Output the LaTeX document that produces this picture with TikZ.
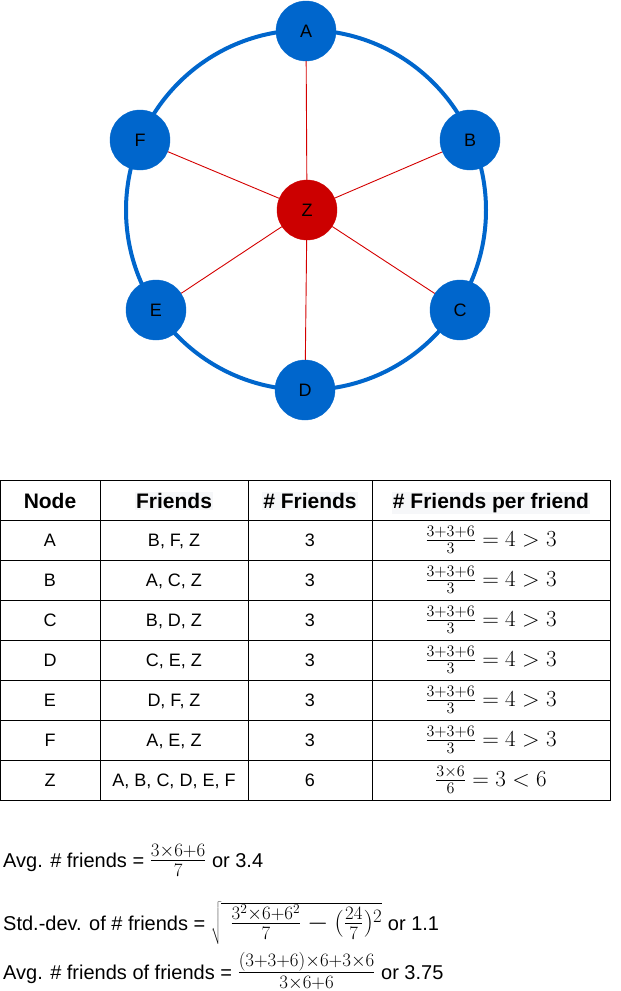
\RequirePackage{fix-cm}
\documentclass[tikz,border=0pt]{standalone}
\usepackage{fontspec}
\setmainfont{Liberation Sans}
\definecolor{nodeblue}{HTML}{0066CC}
\definecolor{zred}{HTML}{CC0000}
\definecolor{spokered}{HTML}{D40000}
\definecolor{hl}{HTML}{F6F7F9}
\begin{document}
\begin{tikzpicture}[x=1pt,y=-1pt,
  person/.style={circle,fill=nodeblue,draw=nodeblue,minimum size=60pt,inner sep=0pt,font=\fontsize{18}{20}\selectfont},
  center/.style={person,fill=zred,draw=zred},
  ring/.style={draw=nodeblue,line width=4pt},
  spoke/.style={draw=spokered,line width=0.9pt},
  grid/.style={draw=black,line width=1pt},
  head/.style={anchor=base,inner sep=1pt,font=\bfseries\fontsize{21}{24}\selectfont},
  cell/.style={anchor=base,inner sep=0pt,font=\fontsize{18}{20}\selectfont},
  mcell/.style={anchor=base,inner sep=0pt,font=\fontsize{23}{26}\selectfont},
  formula/.style={anchor=base west,inner sep=0pt,font=\fontsize{20}{24}\selectfont}
]
\useasboundingbox (0,0) rectangle (621,991);
% ring
\draw[ring] (306,210) circle (180);
% nodes
\node[center] (Z) at (307,210) {Z};
\node[person] (A) at (306,31) {A};
\node[person] (B) at (470,140) {B};
\node[person] (C) at (460,310) {C};
\node[person] (D) at (305,390) {D};
\node[person] (E) at (156,310) {E};
\node[person] (F) at (140,140) {F};
\foreach \n in {A,B,C,D,E,F} \draw[spoke] (Z) -- (\n);
% table grid
\draw[grid] (0.5,480.5) rectangle (610.5,800.5);
\foreach \x in {100.5,248.5,372.5} \draw[grid] (\x,480.5) -- (\x,800.5);
\foreach \y in {520.5,560.5,600.5,640.5,680.5,720.5,760.5} \draw[grid] (0.5,\y) -- (610.5,\y);
% header
\node[head] (h1) at (50,508.5) {Node};
\node[head,fill=hl] (h2) at (174,508.5) {Friends};
\node[head,fill=hl] (h3) at (310,508.5) {\# Friends};
\node[head,fill=hl] (h4) at (491,508.5) {\# Friends per friend};
% rows
\foreach \r/\nm/\fr/\k [count=\i from 0] in {A/A/{B, F, Z}/3, B/B/{A, C, Z}/3, C/C/{B, D, Z}/3, D/D/{C, E, Z}/3, E/E/{D, F, Z}/3, F/F/{A, E, Z}/3}{
  \node[cell] (n\r) at (50,546.5+40*\i) {\nm};
  \node[cell] (f\r) at (174,546.5+40*\i) {\fr};
  \node[cell] (k\r) at (310,546.5+40*\i) {\k};
  \node[mcell] (m\r) at (491,546+40*\i) {$\frac{3+3+6}{3} = 4 > 3$};
}
\node[cell] (nZ) at (50,786.5) {Z};
\node[cell] (fZ) at (174,786.5) {A, B, C, D, E, F};
\node[cell] (kZ) at (310,786.5) {6};
\node[mcell] (mZ) at (491,786) {$\frac{3\times 6}{6} = 3 < 6$};
% formulas
\node[formula] (avg) at (3,867) {Avg. \# friends = {\fontsize{27}{28}\selectfont$\frac{3\times 6+6}{7}$} or 3.4};
\node[formula] (std) at (3,930) {Std.-dev. of \# friends = {\fontsize{27}{28}\selectfont$\sqrt{\rule[-13pt]{0pt}{38pt}\hspace{9pt}\frac{3^2\times 6+6^2}{7}-(\frac{24}{7})^2}$} or 1.1};
\node[formula] (fof) at (3,979) {Avg. \# friends of friends = {\fontsize{27}{28}\selectfont$\frac{(3+3+6)\times 6+3\times 6}{3\times 6+6}$} or 3.75};
\end{tikzpicture}
\end{document}
